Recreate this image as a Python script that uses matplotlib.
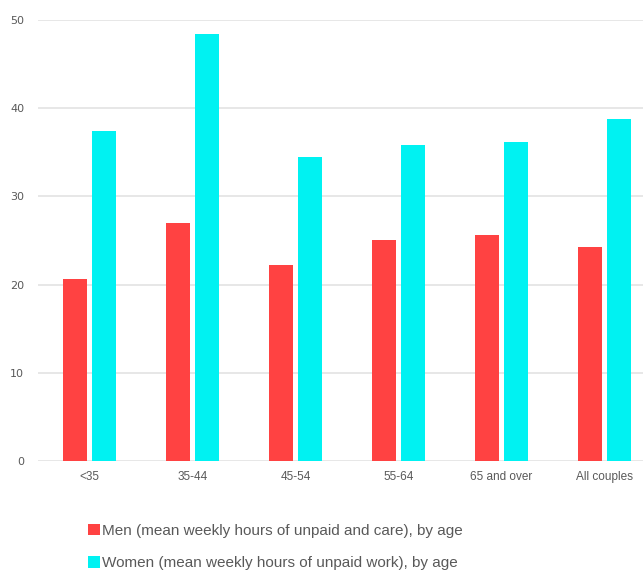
import matplotlib.pyplot as plt
import numpy as np

categorias = ["<35", "35-44", "45-54", "55-64", "65 and over", "All couples"]
homens = [20.6, 27.0, 22.2, 25.1, 25.6, 24.3]
mulheres = [37.4, 48.4, 34.5, 35.8, 36.2, 38.8]

rotulo_h = "Men (mean weekly hours of unpaid and care), by age"
rotulo_m = "Women (mean weekly hours of unpaid work), by age"

estreita = ['Liberation Sans', 'DejaVu Sans']

fig = plt.figure(figsize=(6.43, 5.74), dpi=100)
ax = fig.add_axes([38 / 643, 1 - 461 / 574, 1 - 38 / 643, (461 - 20) / 574])

x = np.arange(len(categorias))
w = 0.233
ax.bar(x - 0.14, homens, w, color='#FF4242', label=rotulo_h, zorder=3)
ax.bar(x + 0.14, mulheres, w, color='#00F2F2', label=rotulo_m, zorder=3)

ax.set_xlim(-0.5, 5.374)
ax.set_ylim(0, 50)
ax.set_yticks(range(0, 51, 10))
ax.set_yticklabels([str(v) for v in range(0, 51, 10)], family='DejaVu Sans', fontsize=8)
ax.set_xticks(x)
ax.grid(axis='y', color='#e3e3e3', linewidth=1.2, zorder=0)
for s in ax.spines.values():
    s.set_visible(False)
ax.tick_params(length=0, colors='#595959', labelsize=8)
ax.tick_params(axis='y', pad=10)
ax.tick_params(axis='x', pad=7)
ax.set_xticklabels(categorias, family=estreita, fontsize=8.5)

fig.legend(loc='upper left', bbox_to_anchor=(80 / 643, 1 - 516 / 574), frameon=False,
           prop={'family': estreita, 'size': 11}, labelcolor='#595959',
           handlelength=0.8, handleheight=0.8,
           handletextpad=0.15, labelspacing=1.2, borderpad=0)

fig.savefig('out.png', dpi=100)
